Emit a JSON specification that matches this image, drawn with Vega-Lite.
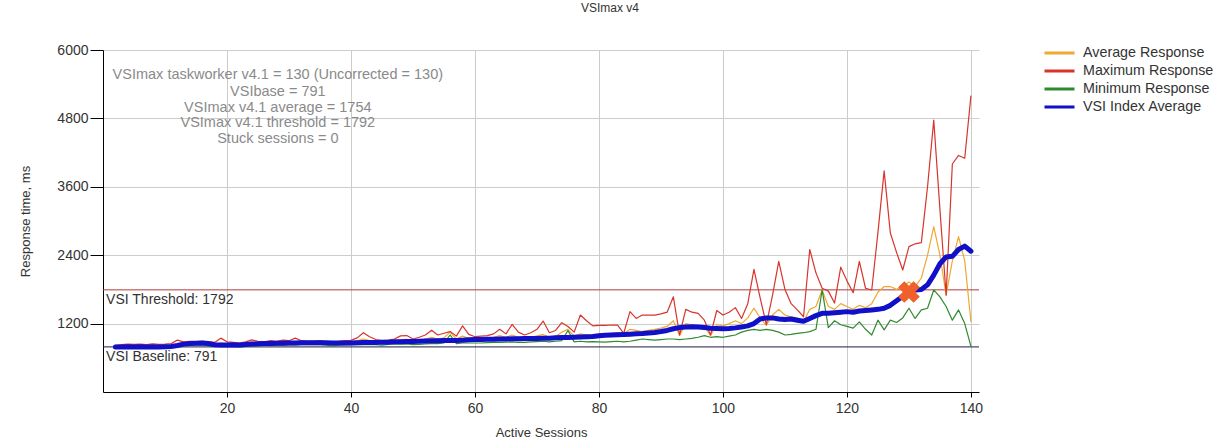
{
  "$schema": "https://vega.github.io/schema/vega-lite/v6.json",
  "width": 876,
  "height": 342,
  "autosize": "none",
  "padding": {"left": 103, "top": 50, "right": 252, "bottom": 53},
  "background": "#ffffff",
  "title": {"text": "VSImax v4", "fontSize": 12, "fontWeight": "normal", "color": "#333333", "offset": 28, "dx": 69, "font": "Liberation Sans"},
  "config": {
    "font": "Liberation Sans",
    "view": {"stroke": null},
    "axis": {"labelFont": "Liberation Sans", "titleFont": "Liberation Sans"}
  },
  "datasets": {
    "sessions": [
      {"s":2,"avg":800,"max":820,"min":780,"vsi":790},
      {"s":3,"avg":805,"max":830,"min":775,"vsi":790},
      {"s":4,"avg":800,"max":840,"min":780,"vsi":795},
      {"s":5,"avg":805,"max":835,"min":775,"vsi":790},
      {"s":6,"avg":810,"max":840,"min":780,"vsi":795},
      {"s":7,"avg":800,"max":830,"min":770,"vsi":790},
      {"s":8,"avg":805,"max":845,"min":780,"vsi":795},
      {"s":9,"avg":800,"max":835,"min":775,"vsi":790},
      {"s":10,"avg":810,"max":840,"min":780,"vsi":795},
      {"s":11,"avg":815,"max":850,"min":785,"vsi":800},
      {"s":12,"avg":840,"max":910,"min":790,"vsi":815},
      {"s":13,"avg":860,"max":880,"min":810,"vsi":840},
      {"s":14,"avg":860,"max":890,"min":820,"vsi":850},
      {"s":15,"avg":865,"max":885,"min":825,"vsi":855},
      {"s":16,"avg":870,"max":890,"min":830,"vsi":860},
      {"s":17,"avg":850,"max":880,"min":810,"vsi":850},
      {"s":18,"avg":840,"max":870,"min":800,"vsi":830},
      {"s":19,"avg":860,"max":945,"min":800,"vsi":825},
      {"s":20,"avg":835,"max":880,"min":800,"vsi":825},
      {"s":21,"avg":830,"max":870,"min":805,"vsi":830},
      {"s":22,"avg":820,"max":860,"min":790,"vsi":825},
      {"s":23,"avg":850,"max":880,"min":805,"vsi":835},
      {"s":24,"avg":875,"max":915,"min":810,"vsi":840},
      {"s":25,"avg":860,"max":890,"min":815,"vsi":845},
      {"s":26,"avg":855,"max":880,"min":820,"vsi":850},
      {"s":27,"avg":870,"max":900,"min":815,"vsi":850},
      {"s":28,"avg":860,"max":890,"min":820,"vsi":855},
      {"s":29,"avg":875,"max":910,"min":820,"vsi":855},
      {"s":30,"avg":880,"max":900,"min":825,"vsi":860},
      {"s":31,"avg":890,"max":945,"min":825,"vsi":860},
      {"s":32,"avg":870,"max":900,"min":830,"vsi":865},
      {"s":33,"avg":860,"max":890,"min":830,"vsi":865},
      {"s":34,"avg":870,"max":895,"min":830,"vsi":865},
      {"s":35,"avg":875,"max":900,"min":830,"vsi":865},
      {"s":36,"avg":860,"max":880,"min":820,"vsi":865},
      {"s":37,"avg":840,"max":870,"min":810,"vsi":860},
      {"s":38,"avg":860,"max":890,"min":820,"vsi":860},
      {"s":39,"avg":865,"max":900,"min":825,"vsi":860},
      {"s":40,"avg":870,"max":905,"min":830,"vsi":860},
      {"s":41,"avg":900,"max":950,"min":830,"vsi":865},
      {"s":42,"avg":930,"max":1040,"min":835,"vsi":870},
      {"s":43,"avg":900,"max":970,"min":830,"vsi":870},
      {"s":44,"avg":880,"max":920,"min":830,"vsi":870},
      {"s":45,"avg":875,"max":900,"min":820,"vsi":875},
      {"s":46,"avg":880,"max":910,"min":835,"vsi":875},
      {"s":47,"avg":895,"max":930,"min":840,"vsi":880},
      {"s":48,"avg":920,"max":985,"min":840,"vsi":880},
      {"s":49,"avg":925,"max":990,"min":845,"vsi":885},
      {"s":50,"avg":890,"max":930,"min":830,"vsi":885},
      {"s":51,"avg":900,"max":960,"min":835,"vsi":890},
      {"s":52,"avg":930,"max":1000,"min":845,"vsi":895},
      {"s":53,"avg":960,"max":1085,"min":850,"vsi":900},
      {"s":54,"avg":930,"max":1000,"min":850,"vsi":900},
      {"s":55,"avg":950,"max":1030,"min":860,"vsi":905},
      {"s":56,"avg":1050,"max":1060,"min":1000,"vsi":905},
      {"s":57,"avg":930,"max":980,"min":850,"vsi":905},
      {"s":58,"avg":980,"max":1160,"min":860,"vsi":910},
      {"s":59,"avg":940,"max":1010,"min":860,"vsi":915},
      {"s":60,"avg":930,"max":970,"min":860,"vsi":920},
      {"s":61,"avg":935,"max":980,"min":860,"vsi":920},
      {"s":62,"avg":940,"max":990,"min":865,"vsi":925},
      {"s":63,"avg":960,"max":1020,"min":870,"vsi":925},
      {"s":64,"avg":990,"max":1100,"min":870,"vsi":930},
      {"s":65,"avg":960,"max":1020,"min":875,"vsi":930},
      {"s":66,"avg":1000,"max":1185,"min":880,"vsi":935},
      {"s":67,"avg":960,"max":1050,"min":870,"vsi":935},
      {"s":68,"avg":950,"max":1000,"min":870,"vsi":940},
      {"s":69,"avg":960,"max":1040,"min":880,"vsi":940},
      {"s":70,"avg":985,"max":1100,"min":885,"vsi":940},
      {"s":71,"avg":1010,"max":1245,"min":890,"vsi":945},
      {"s":72,"avg":960,"max":1040,"min":880,"vsi":945},
      {"s":73,"avg":975,"max":1080,"min":890,"vsi":950},
      {"s":74,"avg":1050,"max":1215,"min":900,"vsi":955},
      {"s":75,"avg":1100,"max":1150,"min":1080,"vsi":955},
      {"s":76,"avg":980,"max":1050,"min":880,"vsi":960},
      {"s":77,"avg":1020,"max":1350,"min":890,"vsi":965},
      {"s":78,"avg":1000,"max":1250,"min":880,"vsi":970},
      {"s":79,"avg":1000,"max":1160,"min":885,"vsi":975},
      {"s":80,"avg":1010,"max":1170,"min":880,"vsi":985},
      {"s":81,"avg":1020,"max":1170,"min":875,"vsi":995},
      {"s":82,"avg":1030,"max":1175,"min":885,"vsi":1000},
      {"s":83,"avg":1040,"max":1175,"min":890,"vsi":1005},
      {"s":84,"avg":1020,"max":1030,"min":880,"vsi":1010},
      {"s":85,"avg":1100,"max":1410,"min":890,"vsi":1015},
      {"s":86,"avg":1080,"max":1290,"min":910,"vsi":1020},
      {"s":87,"avg":1060,"max":1350,"min":930,"vsi":1025},
      {"s":88,"avg":1080,"max":1350,"min":920,"vsi":1035},
      {"s":89,"avg":1100,"max":1350,"min":910,"vsi":1045},
      {"s":90,"avg":1120,"max":1370,"min":920,"vsi":1060},
      {"s":91,"avg":1150,"max":1400,"min":930,"vsi":1080},
      {"s":92,"avg":1250,"max":1670,"min":930,"vsi":1110},
      {"s":93,"avg":990,"max":1000,"min":920,"vsi":1130},
      {"s":94,"avg":1200,"max":1450,"min":930,"vsi":1140},
      {"s":95,"avg":1180,"max":1400,"min":940,"vsi":1145},
      {"s":96,"avg":1160,"max":1380,"min":960,"vsi":1140},
      {"s":97,"avg":1150,"max":1260,"min":990,"vsi":1130},
      {"s":98,"avg":990,"max":1000,"min":960,"vsi":1120},
      {"s":99,"avg":1180,"max":1430,"min":970,"vsi":1115},
      {"s":100,"avg":1160,"max":1350,"min":960,"vsi":1110},
      {"s":101,"avg":1200,"max":1400,"min":980,"vsi":1115},
      {"s":102,"avg":1250,"max":1480,"min":1000,"vsi":1125},
      {"s":103,"avg":1200,"max":1290,"min":1050,"vsi":1140},
      {"s":104,"avg":1300,"max":1550,"min":1080,"vsi":1160},
      {"s":105,"avg":1470,"max":2150,"min":1100,"vsi":1200},
      {"s":106,"avg":1300,"max":1650,"min":1080,"vsi":1280},
      {"s":107,"avg":1170,"max":1180,"min":1100,"vsi":1300},
      {"s":108,"avg":1350,"max":1700,"min":1080,"vsi":1300},
      {"s":109,"avg":1450,"max":2290,"min":1050,"vsi":1280},
      {"s":110,"avg":1350,"max":1800,"min":1000,"vsi":1270},
      {"s":111,"avg":1320,"max":1550,"min":1010,"vsi":1280},
      {"s":112,"avg":1300,"max":1440,"min":1030,"vsi":1260},
      {"s":113,"avg":1230,"max":1320,"min":1040,"vsi":1240},
      {"s":114,"avg":1450,"max":2500,"min":1060,"vsi":1290},
      {"s":115,"avg":1500,"max":2090,"min":1100,"vsi":1340},
      {"s":116,"avg":1790,"max":1820,"min":1790,"vsi":1380},
      {"s":117,"avg":1500,"max":1770,"min":1130,"vsi":1380},
      {"s":118,"avg":1450,"max":1560,"min":1250,"vsi":1390},
      {"s":119,"avg":1550,"max":2190,"min":1180,"vsi":1400},
      {"s":120,"avg":1500,"max":1950,"min":1150,"vsi":1410},
      {"s":121,"avg":1450,"max":1740,"min":1120,"vsi":1400},
      {"s":122,"avg":1520,"max":2290,"min":1230,"vsi":1420},
      {"s":123,"avg":1480,"max":1820,"min":1100,"vsi":1430},
      {"s":124,"avg":1550,"max":1790,"min":1000,"vsi":1440},
      {"s":125,"avg":1750,"max":2800,"min":1260,"vsi":1450},
      {"s":126,"avg":1850,"max":3880,"min":1090,"vsi":1470},
      {"s":127,"avg":1850,"max":2790,"min":1260,"vsi":1520},
      {"s":128,"avg":1800,"max":2450,"min":1220,"vsi":1600},
      {"s":129,"avg":1850,"max":2140,"min":1300,"vsi":1680},
      {"s":130,"avg":1930,"max":2550,"min":1470,"vsi":1754},
      {"s":131,"avg":1850,"max":2600,"min":1290,"vsi":1790},
      {"s":132,"avg":2000,"max":2620,"min":1440,"vsi":1800},
      {"s":133,"avg":2400,"max":3600,"min":1470,"vsi":1880},
      {"s":134,"avg":2900,"max":4770,"min":1790,"vsi":2050},
      {"s":135,"avg":2400,"max":3200,"min":1670,"vsi":2250},
      {"s":136,"avg":1700,"max":1700,"min":1500,"vsi":2370},
      {"s":137,"avg":2300,"max":4000,"min":1260,"vsi":2380},
      {"s":138,"avg":2725,"max":4150,"min":1440,"vsi":2500},
      {"s":139,"avg":2300,"max":4100,"min":1200,"vsi":2560},
      {"s":140,"avg":1230,"max":5200,"min":800,"vsi":2470}
    ],
    "notes": [
      {"x": 28.2, "y": 5561, "label": "VSImax taskworker v4.1 = 130 (Uncorrected = 130)"},
      {"x": 28.2, "y": 5263, "label": "VSIbase = 791"},
      {"x": 28.2, "y": 4982, "label": "VSImax v4.1 average = 1754"},
      {"x": 28.2, "y": 4719, "label": "VSImax v4.1 threshold = 1792"},
      {"x": 28.2, "y": 4438, "label": "Stuck sessions = 0"}
    ],
    "refs": [
      {"s": 0.5, "v": 1792, "kind": "threshold", "label": "VSI Threshold: 1792"},
      {"s": 0.5, "v": 791, "kind": "baseline", "label": "VSI Baseline: 791"}
    ],
    "vsimax": [{"s": 130, "v": 1754}]
  },
  "layer": [
    {
      "data": {"name": "refs"},
      "transform": [{"filter": "datum.kind == 'threshold'"}],
      "mark": {"type": "rule", "color": "#b03a3a", "strokeWidth": 1},
      "encoding": {"y": {"field": "v", "type": "quantitative"}}
    },
    {
      "data": {"name": "refs"},
      "transform": [{"filter": "datum.kind == 'baseline'"}],
      "mark": {"type": "rule", "color": "#1c1c40", "strokeWidth": 1},
      "encoding": {"y": {"field": "v", "type": "quantitative"}}
    },
    {
      "data": {"name": "sessions"},
      "transform": [{"fold": ["avg", "max", "min"], "as": ["series", "value"]}],
      "mark": {"type": "line", "strokeJoin": "round", "strokeWidth": 1.2},
      "encoding": {
        "x": {
          "field": "s", "type": "quantitative",
          "scale": {"domain": [0, 141.3], "nice": false, "zero": false},
          "axis": {
            "values": [20, 40, 60, 80, 100, 120, 140],
            "grid": true, "gridColor": "#cccccc", "gridWidth": 1,
            "domainColor": "#000000", "tickColor": "#000000", "tickSize": 5,
            "labelFontSize": 14, "labelColor": "#333333", "labelPadding": 4,
            "title": "Active Sessions", "titleFontSize": 13, "titleFontWeight": "normal",
            "titleColor": "#333333", "titlePadding": 11
          }
        },
        "y": {
          "field": "value", "type": "quantitative",
          "scale": {"domain": [0, 6000], "nice": false},
          "axis": {
            "values": [1200, 2400, 3600, 4800, 6000], "format": "d",
            "grid": true, "gridColor": "#cccccc", "gridWidth": 1,
            "domainColor": "#000000", "tickColor": "#000000", "tickSize": 13,
            "labelFontSize": 14, "labelColor": "#333333", "labelPadding": 2,
            "title": "Response time, ms", "titleFontSize": 13, "titleFontWeight": "normal",
            "titleColor": "#333333", "titlePadding": 24
          }
        },
        "color": {
          "field": "series", "type": "nominal",
          "scale": {"domain": ["avg", "max", "min", "vsi"], "range": ["#f0a830", "#d8342c", "#2f8a2f", "#1010c8"]},
          "legend": {
            "title": null,
            "orient": "none", "legendX": 940, "legendY": -6,
            "symbolType": "stroke", "symbolSize": 900, "symbolStrokeWidth": 3,
            "clipHeight": 18, "rowPadding": 0, "padding": 0,
            "labelFontSize": 14.3, "labelColor": "#333333", "labelOffset": 7, "labelFont": "Liberation Sans",
            "labelExpr": "{'avg':'Average Response','max':'Maximum Response','min':'Minimum Response','vsi':'VSI Index Average'}[datum.label]"
          }
        }
      }
    },
    {
      "data": {"name": "sessions"},
      "transform": [{"fold": ["vsi"], "as": ["series", "value"]}],
      "mark": {"type": "line", "strokeJoin": "round", "strokeCap": "round", "strokeWidth": 5},
      "encoding": {
        "x": {"field": "s", "type": "quantitative"},
        "y": {"field": "value", "type": "quantitative"},
        "color": {"field": "series", "type": "nominal"}
      }
    },
    {
      "data": {"name": "vsimax"},
      "mark": {"type": "point", "shape": "cross", "angle": 45, "filled": true, "color": "#f0602a", "size": 480, "opacity": 1},
      "encoding": {
        "x": {"field": "s", "type": "quantitative"},
        "y": {"field": "v", "type": "quantitative"}
      }
    },
    {
      "data": {"name": "notes"},
      "mark": {"type": "text", "align": "center", "baseline": "middle", "fontSize": 14.5, "color": "#8a8a8a", "font": "Liberation Sans"},
      "encoding": {
        "x": {"field": "x", "type": "quantitative"},
        "y": {"field": "y", "type": "quantitative"},
        "text": {"field": "label"}
      }
    },
    {
      "data": {"name": "refs"},
      "mark": {"type": "text", "align": "left", "baseline": "top", "dy": 3, "fontSize": 14, "color": "#333333", "font": "Liberation Sans"},
      "encoding": {
        "x": {"field": "s", "type": "quantitative"},
        "y": {"field": "v", "type": "quantitative"},
        "text": {"field": "label"}
      }
    }
  ]
}
